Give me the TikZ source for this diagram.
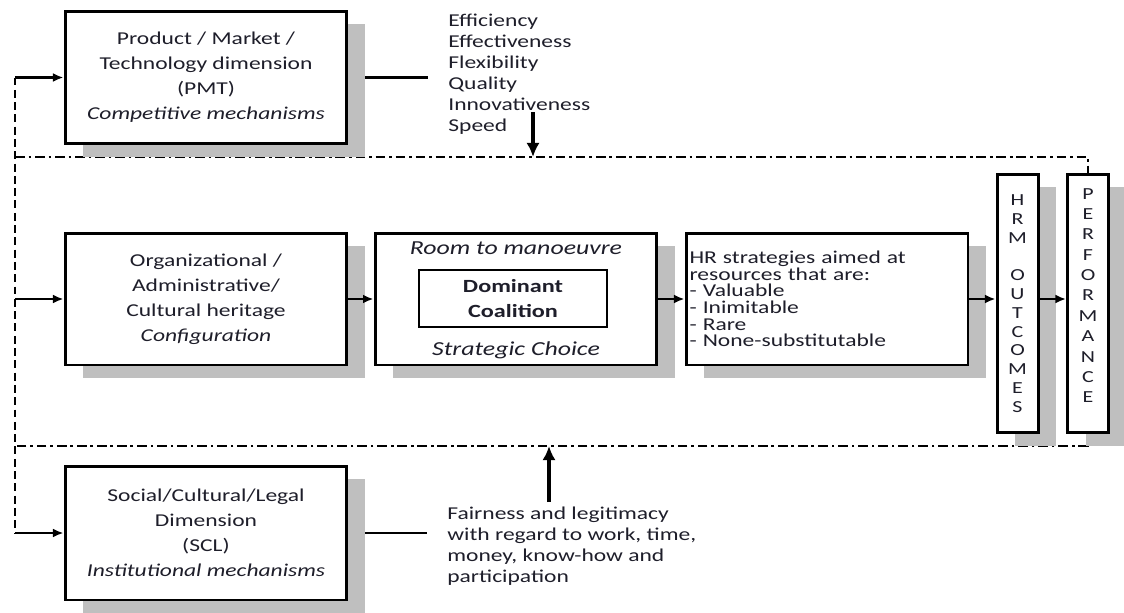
\documentclass[tikz,border=0pt]{standalone}
\usepackage{fontspec}
\setmainfont{Carlito}[FakeStretch=1.3]
\usepackage{tikz}
\usetikzlibrary{arrows.meta,positioning,shadows}
\definecolor{shadowgray}{HTML}{BFBFBF}
\definecolor{inkdark}{HTML}{1E1E2A}

\begin{document}
\begin{tikzpicture}[x=0.02cm,y=-0.02cm,
  font=\fontsize{10.3}{14.2}\selectfont,text=inkdark,
  block/.style={draw=black,line width=1.7pt,fill=white,align=center,
    minimum width=5.64cm,minimum height=2.64cm,inner sep=2pt,
    drop shadow={shadow xshift=0.36cm,shadow yshift=-0.26cm,fill=shadowgray,opacity=1}},
  tallbox/.style={block,minimum width=0.82cm,minimum height=5.18cm,
    font=\fontsize{9.6}{10.7}\selectfont},
  link/.style={line width=1.3pt},
  feed/.style={link,-{Latex[length=6pt,width=5pt]}},
  push/.style={line width=2.2pt,-{Latex[length=8pt,width=7.5pt]}},
  frame/.style={line width=1.1pt,dash pattern=on 5.5pt off 2.2pt on 1.5pt off 2.2pt},
  loopline/.style={line width=1.3pt,dash pattern=on 4.5pt off 2.5pt}]

  \useasboundingbox (0,0) rectangle (1124,612);

  % dash-dot frame, drawn first so the boxes cover it
  \coordinate (ftl) at (15,157);
  \coordinate (ftr) at (1088,157);
  \coordinate (fbr) at (1088,446);
  \coordinate (fbl) at (15,446);
  \draw[frame] (ftl) -- (ftr) -- (fbr) -- (fbl);

  \node[block,minimum height=2.66cm] (pmt) at (206,77.5)
    {Product / Market /\\Technology dimension\\(PMT)\\\textit{Competitive mechanisms}};
  \node[block] (org) at (206,299)
    {Organizational /\\Administrative/\\Cultural heritage\\\textit{Configuration}};
  \node[block,minimum height=2.68cm] (scl) at (206,533)
    {Social/Cultural/Legal\\Dimension\\(SCL)\\\textit{Institutional mechanisms}};

  \node[block] (room) at (516,299) {};
  \node[font=\fontsize{11.3}{13}\selectfont\itshape] (roomtop) at ([yshift=-0.33cm]room.north) {Room to manoeuvre};
  \node[draw=black,line width=0.8pt,fill=white,align=center,minimum width=3.76cm,minimum height=1.14cm,
    font=\fontsize{10.6}{14.2}\selectfont\bfseries] (coal) at (513,298.5) {Dominant\\Coalition};
  \node[font=\fontsize{11.3}{13}\selectfont\itshape] (choice) at ([yshift=0.33cm]room.south) {Strategic Choice};

  \node[block,align=left,text width=5.5cm,font=\fontsize{10.3}{9.5}\selectfont] (hr) at (827,299)
    {HR strategies aimed at\\resources that are:\\- Valuable\\- Inimitable\\- Rare\\- None-substitutable};

  \node[tallbox] (hrm) at (1017.5,303.5) {H\\R\\M\\\mbox{}\\O\\U\\T\\C\\O\\M\\E\\S};
  \node[tallbox] (perf) at (1088,303.5) {};
  \node[align=center,font=\fontsize{9.6}{11.6}\selectfont] (perftext) at ([yshift=0.16cm]perf.center)
    {P\\E\\R\\F\\O\\R\\M\\A\\N\\C\\E};

  \node[anchor=north west,inner sep=0pt,align=left,font=\fontsize{10.3}{11.9}\selectfont] (crit) at (448,14)
    {Efficiency\\Effectiveness\\Flexibility\\Quality\\Innovativeness\\Speed};
  \node[anchor=north west,inner sep=0pt,align=left,font=\fontsize{10.3}{11.9}\selectfont] (fair) at (447,507)
    {Fairness and legitimacy\\with regard to work, time,\\money, know-how and\\participation};

  \draw[link] ([xshift=0.34cm]pmt.east) -- ([xshift=-0.4cm]crit.west |- pmt.east);
  \draw[link] ([xshift=0.34cm]scl.east) -- ([xshift=-0.4cm]fair.west |- scl.east);

  \draw[feed] (org) -- (room);
  \draw[feed] (room) -- (hr);
  \draw[feed] (hr.east) -- (hr.east -| hrm.west);
  \draw[feed] (hrm.east |- hr.east) -- (perf.west |- hr.east);

  % feedback line on the left
  \coordinate (lt) at (15,77.5);
  \coordinate (lb) at (15,533);
  \draw[loopline] (lt) -- (lb);
  \draw[feed] (lt) -- (pmt.west);
  \draw[feed] (lt |- org.west) -- (org.west);
  \draw[feed] (lb) -- (scl.west);

  \coordinate (down) at (533,112);
  \coordinate (up) at (549,502);
  \draw[push] (down) -- (down |- ftl);
  \draw[push] (up) -- (up |- fbl);
\end{tikzpicture}
\end{document}
